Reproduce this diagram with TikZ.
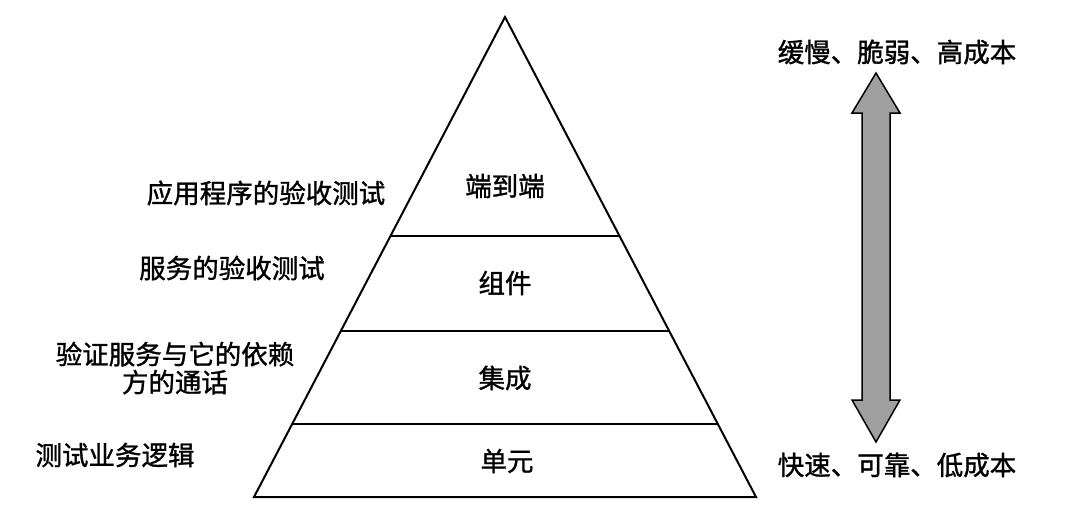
\documentclass[tikz,border=0pt]{standalone}
\usepackage{fontspec}
\setmainfont{Noto Sans CJK SC}
\newfontfamily\cjk[FakeBold=1.2,AutoFakeBold=1.2]{Noto Sans CJK SC}
\begin{document}
\begin{tikzpicture}[x=1pt,y=-1pt,
  lbl/.style={font=\cjk\bfseries\fontsize{26.5}{31}\selectfont, inner sep=0pt, align=center},
  edge/.style={line width=2pt, black, line join=miter},
  bigarrow/.style={line width=1.5pt, draw=black, fill=gray!75}]
\useasboundingbox (0,0) rectangle (1066,514);
% pyramid corners
\coordinate (apex) at (505,17);
\coordinate (bl) at (254,497);
\coordinate (br) at (756,497);
\coordinate (l1) at (391,236); \coordinate (r1) at (619,236);
\coordinate (l2) at (341,331); \coordinate (r2) at (669,331);
\coordinate (l3) at (293,424); \coordinate (r3) at (717,424);
\draw[edge] (apex) -- (bl) -- (br) -- cycle;
\draw[edge] (l1) -- (r1);
\draw[edge] (l2) -- (r2);
\draw[edge] (l3) -- (r3);
% layer labels
\node[lbl] (e2e) at (505,186) {端到端};
\node[lbl] (comp) at (505,283) {组件};
\node[lbl] (integ) at (505,378) {集成};
\node[lbl] (unit) at (507,461) {单元};
% left descriptions
\node[lbl] (d1) at (266,193) {应用程序的验收测试};
\node[lbl] (d2) at (232,268) {服务的验收测试};
\node[lbl, text depth=0pt] (d3) at (175,367) {验证服务与它的依赖\\[-3pt]方的通话};
\node[lbl] (d4) at (115,455) {测试业务逻辑};
% right arrow
\draw[bigarrow] (876,73) -- (900,113) -- (890,113) -- (890,400) -- (900,400)
  -- (876,442) -- (852,400) -- (862,400) -- (862,113) -- (852,113) -- cycle;
\node[lbl] (slow) at (897,52) {缓慢、脆弱、高成本};
\node[lbl] (fast) at (897,465) {快速、可靠、低成本};
\end{tikzpicture}
\end{document}
